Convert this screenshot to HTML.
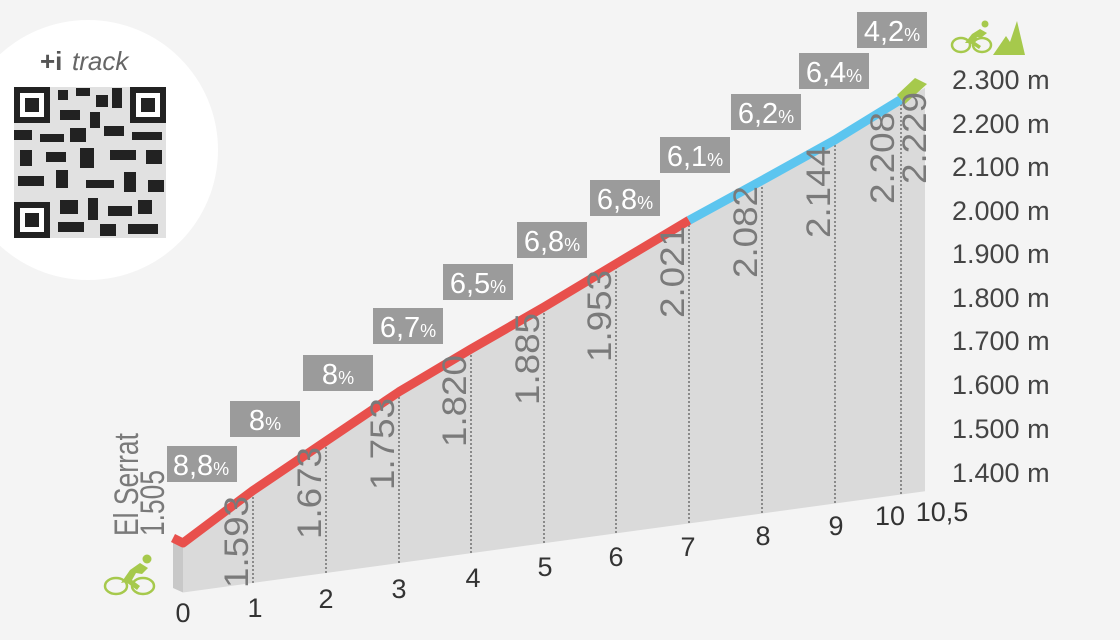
<!DOCTYPE html>
<html><head><meta charset="utf-8"><style>
body{margin:0;background:#f4f4f4;}
svg{display:block;font-family:"Liberation Sans",sans-serif;}
</style></head><body>
<svg width="1120" height="640" viewBox="0 0 1120 640">
<rect width="1120" height="640" fill="#f4f4f4"/>
<circle cx="88" cy="150" r="130" fill="#ffffff"/>
<text x="40" y="70" font-size="26" font-weight="bold" fill="#555">+i</text>
<text x="72" y="70" font-size="26" font-style="italic" fill="#666">track</text>
<g fill="#222">
<rect x="14" y="87" width="152" height="151" fill="#333" opacity="0.15"/>
<rect x="14" y="87" width="36" height="36"/><rect x="20" y="93" width="24" height="24" fill="#fff"/><rect x="25" y="98" width="14" height="14"/>
<rect x="130" y="87" width="36" height="36"/><rect x="136" y="93" width="24" height="24" fill="#fff"/><rect x="141" y="98" width="14" height="14"/>
<rect x="14" y="202" width="36" height="36"/><rect x="20" y="208" width="24" height="24" fill="#fff"/><rect x="25" y="213" width="14" height="14"/>
<rect x="58" y="90" width="10" height="10"/><rect x="76" y="88" width="14" height="8"/><rect x="96" y="95" width="12" height="12"/><rect x="112" y="88" width="10" height="20"/>
<rect x="60" y="110" width="20" height="10"/><rect x="90" y="112" width="10" height="16"/><rect x="14" y="130" width="18" height="10"/><rect x="40" y="134" width="24" height="8"/>
<rect x="70" y="128" width="16" height="14"/><rect x="104" y="126" width="20" height="10"/><rect x="132" y="132" width="30" height="8"/><rect x="20" y="150" width="12" height="16"/>
<rect x="46" y="152" width="20" height="10"/><rect x="80" y="148" width="14" height="20"/><rect x="110" y="150" width="26" height="10"/><rect x="146" y="150" width="16" height="14"/>
<rect x="18" y="176" width="26" height="10"/><rect x="56" y="170" width="12" height="18"/><rect x="86" y="180" width="28" height="8"/><rect x="124" y="172" width="12" height="20"/>
<rect x="148" y="180" width="16" height="12"/><rect x="60" y="200" width="18" height="14"/><rect x="88" y="198" width="10" height="22"/><rect x="108" y="206" width="24" height="10"/>
<rect x="138" y="200" width="14" height="14"/><rect x="58" y="222" width="26" height="10"/><rect x="100" y="224" width="16" height="12"/><rect x="128" y="224" width="30" height="10"/>
</g>
<!-- profile -->
<polygon points="173,538 183,545.3 183,592.5 173,588" fill="#c8c8c8"/>
<polygon points="183,545.3 253,492.5 326,443.1 399,393.8 471,351 544,309 616,265.8 689,222.3 762,182.4 835,141.9 901,101.4 925,87.8 925,491.2 183,592.5" fill="#dadada"/>
<g stroke="#777" stroke-width="1.6" stroke-dasharray="2,2">
<line x1="253" y1="583" x2="253" y2="492"/><line x1="326" y1="573" x2="326" y2="443"/>
<line x1="399" y1="563" x2="399" y2="394"/><line x1="471" y1="553" x2="471" y2="351"/>
<line x1="544" y1="543" x2="544" y2="309"/><line x1="616" y1="533" x2="616" y2="266"/>
<line x1="689" y1="523" x2="689" y2="222"/><line x1="762" y1="513" x2="762" y2="182"/>
<line x1="835" y1="503" x2="835" y2="142"/><line x1="901" y1="494" x2="901" y2="101"/>
</g>
<g fill="none" stroke-width="9" stroke-linejoin="round">
<polyline points="173,538 183,543 253,490.5 326,441.1 399,391.8 471,349 544,307 616,263.8 689,220.3" stroke="#e8504c"/>
<polyline points="689,220.3 762,180.4 835,139.9 901,99.4" stroke="#5cc5ef"/>
</g>
<polygon points="897,95 915,78 927,84 905,104" fill="#a6c94c"/>
<!-- elevation labels -->
<g font-size="34" fill="#7a7a7a" text-anchor="end">
<text transform="translate(248,496) rotate(-90)" textLength="92" lengthAdjust="spacingAndGlyphs">1.593</text>
<text transform="translate(321,447) rotate(-90)" textLength="92" lengthAdjust="spacingAndGlyphs">1.673</text>
<text transform="translate(394,398) rotate(-90)" textLength="92" lengthAdjust="spacingAndGlyphs">1.753</text>
<text transform="translate(466,355) rotate(-90)" textLength="92" lengthAdjust="spacingAndGlyphs">1.820</text>
<text transform="translate(539,313) rotate(-90)" textLength="92" lengthAdjust="spacingAndGlyphs">1.885</text>
<text transform="translate(611,270) rotate(-90)" textLength="92" lengthAdjust="spacingAndGlyphs">1.953</text>
<text transform="translate(684,226) rotate(-90)" textLength="92" lengthAdjust="spacingAndGlyphs">2.021</text>
<text transform="translate(757,186) rotate(-90)" textLength="92" lengthAdjust="spacingAndGlyphs">2.082</text>
<text transform="translate(830,146) rotate(-90)" textLength="92" lengthAdjust="spacingAndGlyphs">2.144</text>
<text transform="translate(894,112) rotate(-90)" textLength="92" lengthAdjust="spacingAndGlyphs">2.208</text>
<text transform="translate(926,92) rotate(-90)" textLength="92" lengthAdjust="spacingAndGlyphs">2.229</text>
</g>
<g font-size="34" fill="#7a7a7a">
<text transform="translate(138,536) rotate(-90)" textLength="103" lengthAdjust="spacingAndGlyphs">El Serrat</text>
<text transform="translate(164,536) rotate(-90)" textLength="66" lengthAdjust="spacingAndGlyphs">1.505</text>
</g>
<!-- percent boxes -->
<g fill="#9b9b9b">
<rect x="167" y="446" width="70" height="36"/><rect x="230" y="401" width="70" height="36"/>
<rect x="303" y="355" width="70" height="36"/><rect x="373" y="308" width="70" height="36"/>
<rect x="443" y="264" width="70" height="36"/><rect x="517" y="222" width="70" height="36"/>
<rect x="590" y="180" width="70" height="36"/><rect x="660" y="137" width="70" height="36"/>
<rect x="731" y="94" width="70" height="36"/><rect x="799" y="53" width="70" height="36"/>
<rect x="857" y="12" width="70" height="36"/>
</g>
<g fill="#fff" font-size="29" text-anchor="middle">
<text x="201" y="475">8,8<tspan font-size="18">%</tspan></text>
<text x="265" y="430">8<tspan font-size="18">%</tspan></text>
<text x="338" y="384">8<tspan font-size="18">%</tspan></text>
<text x="408" y="337">6,7<tspan font-size="18">%</tspan></text>
<text x="478" y="293">6,5<tspan font-size="18">%</tspan></text>
<text x="552" y="251">6,8<tspan font-size="18">%</tspan></text>
<text x="625" y="209">6,8<tspan font-size="18">%</tspan></text>
<text x="695" y="166">6,1<tspan font-size="18">%</tspan></text>
<text x="766" y="123">6,2<tspan font-size="18">%</tspan></text>
<text x="834" y="82">6,4<tspan font-size="18">%</tspan></text>
<text x="892" y="41">4,2<tspan font-size="18">%</tspan></text>
</g>
<!-- km labels -->
<g font-size="27" fill="#333" text-anchor="middle">
<text x="183" y="622">0</text><text x="255" y="617">1</text><text x="326" y="608">2</text>
<text x="399" y="598">3</text><text x="473" y="587">4</text><text x="545" y="576">5</text>
<text x="616" y="566">6</text><text x="688" y="556">7</text><text x="763" y="545">8</text>
<text x="836" y="535">9</text><text x="890" y="525">10</text><text x="942" y="521">10,5</text>
</g>
<!-- y axis -->
<g font-size="27" fill="#444">
<text x="952" y="89">2.300 m</text><text x="952" y="133">2.200 m</text>
<text x="952" y="176">2.100 m</text><text x="952" y="220">2.000 m</text>
<text x="952" y="263">1.900 m</text><text x="952" y="307">1.800 m</text>
<text x="952" y="350">1.700 m</text><text x="952" y="394">1.600 m</text>
<text x="952" y="438">1.500 m</text><text x="952" y="482">1.400 m</text>
</g>
<!-- icons -->
<g fill="none" stroke="#a6c94c" stroke-width="2.5">
<ellipse cx="116" cy="586" rx="11" ry="8"/><ellipse cx="143" cy="586" rx="11" ry="8"/>
<ellipse cx="961" cy="45" rx="9" ry="7"/><ellipse cx="982" cy="45" rx="9" ry="7"/>
</g>
<g fill="#a6c94c">
<circle cx="147" cy="559" r="4.5"/><path d="M121,583 L130,570 L140,563 L148,568 L142,574 L136,573 L132,580 L140,586 L137,590 L126,582 Z"/>
<circle cx="985" cy="24" r="3.5"/><path d="M965,43 L972,34 L980,29 L987,33 L982,37 L977,37 L975,42 L981,46 L979,49 L970,43 Z"/>
<polygon points="993,55 1006,36 1010,42 1017,21 1025,55"/>
</g>
</svg>
</body></html>
